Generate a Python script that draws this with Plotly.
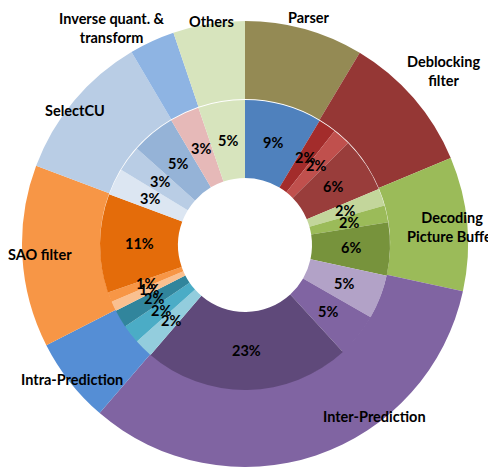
import math
import plotly.graph_objects as go

# ---- data ----
categories = ["Parser", "Deblocking filter", "Decoding Picture Buffer", "Inter-Prediction",
              "Intra-Prediction", "SAO filter", "SelectCU", "Inverse quant. & transform", "Others"]
category_colors = ["#948A54", "#953735", "#9BBB59", "#8064A2", "#558ED5",
                   "#F79646", "#B9CDE5", "#8EB4E3", "#D7E4BD"]

# sub-components (inner ring), clockwise from 12 o'clock; shares in percent
sub_parent = ["Parser",
              "Deblocking filter", "Deblocking filter", "Deblocking filter",
              "Decoding Picture Buffer", "Decoding Picture Buffer", "Decoding Picture Buffer",
              "Inter-Prediction", "Inter-Prediction", "Inter-Prediction",
              "Intra-Prediction", "Intra-Prediction", "Intra-Prediction",
              "SAO filter", "SAO filter", "SAO filter",
              "SelectCU", "SelectCU", "SelectCU",
              "Inverse quant. & transform",
              "Others"]
sub_values = [8.6,
              2.0, 2.0, 6.1,
              1.9, 1.9, 5.9,
              4.9, 4.9, 23.1,
              2.1, 2.1, 2.0,
              1.1, 1.1, 11.0,
              3.0, 2.9, 4.9,
              3.3,
              5.2]
sub_colors = ["#4F81BD",
              "#A32C2B", "#C0504D", "#993D3B",
              "#C3D69B", "#9BBB59", "#77933C",
              "#B2A2C7", "#8064A2", "#5F497A",
              "#93CDDD", "#4BACC6", "#31859C",
              "#FAC090", "#F79646", "#E46C0A",
              "#DCE6F2", "#B9CDE5", "#95B3D7",
              "#E6B9B8",
              "#D7E4BD"]

category_values = [sum(v for p, v in zip(sub_parent, sub_values) if p == c) for c in categories]

# label text for outer ring (line breaks as in the chart)
category_label_text = ["Parser", "Deblocking<br>filter", "Decoding<br>Picture Buffer",
                       "Inter-Prediction", "Intra-Prediction", "SAO filter", "SelectCU",
                       "Inverse quant. &<br>transform", "Others"]
# label centres in page pixels (x from left, y from top)
category_label_pos = [(309, 17), (443, 71), (452, 227), (374, 416), (72, 379),
                      (40, 254), (75, 110), (112, 28), (211, 22)]

# page is offset by the default 8px body margin
OFF = 8
W, H = 496 - OFF, 467 - OFF
CX = 245 - OFF
CY_OUT, CY_IN = 244 - OFF, 245 - OFF
R_OUT, R_MID, R_HOLE = 223, 145, 67
R_TEXT = 106


def dom(r, cy):
    return dict(x=[(CX - r) / W, (CX + r) / W],
                y=[max(0, (H - cy - r) / H), (H - cy + r) / H])


FONT = "Lato"
FS = 14.5

fig = go.Figure()
fig.add_trace(go.Pie(
    labels=categories, values=category_values, sort=False, direction="clockwise",
    rotation=0, hole=R_MID / R_OUT, domain=dom(R_OUT, CY_OUT),
    marker=dict(colors=category_colors, line=dict(width=0)),
    textinfo="none", hoverinfo="label+value", showlegend=False,
))
fig.add_trace(go.Pie(
    labels=[f"{p} {i}" for i, p in enumerate(sub_parent)], values=sub_values,
    sort=False, direction="clockwise", rotation=0,
    hole=R_HOLE / R_MID, domain=dom(R_MID, CY_IN),
    marker=dict(colors=sub_colors, line=dict(width=0)),
    textinfo="none", hoverinfo="label+value", showlegend=False,
))

# percentage labels of the inner ring, at each slice's mid-angle
total = sum(sub_values)
cum = 0.0
for v in sub_values:
    mid = (cum + v / 2) / total * 2 * math.pi
    cum += v
    px = CX + R_TEXT * math.sin(mid)
    py = CY_IN - R_TEXT * math.cos(mid)
    fig.add_annotation(x=px / W, y=1 - py / H, xref="paper", yref="paper",
                       text=f"<b>{round(v)}%</b>", showarrow=False,
                       xanchor="center", yanchor="middle",
                       font=dict(family=FONT, size=FS, color="black"))

for txt, (px, py) in zip(category_label_text, category_label_pos):
    fig.add_annotation(x=(px - OFF) / W, y=1 - (py - OFF) / H, xref="paper", yref="paper",
                       text=f"<b>{txt}</b>", showarrow=False,
                       xanchor="center", yanchor="middle",
                       font=dict(family=FONT, size=FS, color="black"))

fig.update_layout(
    width=W, height=H, margin=dict(l=0, r=0, t=0, b=0),
    paper_bgcolor="white", plot_bgcolor="white",
)
fig.write_html("out.html")
